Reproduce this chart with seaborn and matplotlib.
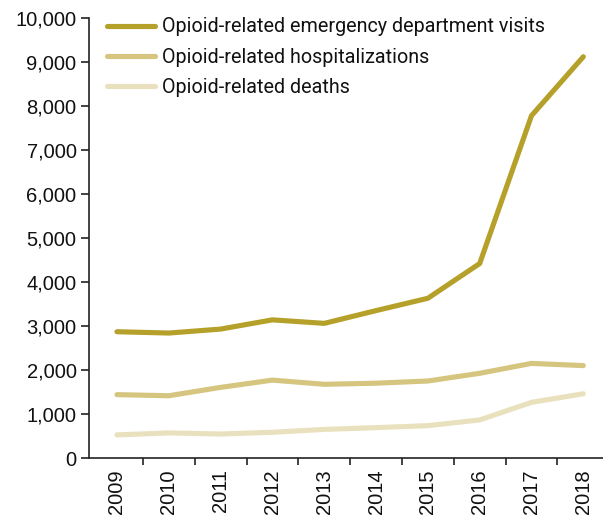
import matplotlib
matplotlib.use("Agg")
import matplotlib.pyplot as plt
import seaborn as sns
import pandas as pd
from matplotlib.ticker import FixedLocator, FuncFormatter

years = ["2009", "2010", "2011", "2012", "2013", "2014", "2015", "2016", "2017", "2018"]
ed_visits = [2870, 2840, 2930, 3140, 3060, 3350, 3630, 4420, 7780, 9120]
hospitalizations = [1440, 1415, 1605, 1770, 1675, 1700, 1750, 1925, 2150, 2100]
deaths = [525, 570, 545, 585, 650, 690, 735, 865, 1265, 1460]

series_names = [
    "Opioid-related emergency department visits",
    "Opioid-related hospitalizations",
    "Opioid-related deaths",
]
colors = ["#B5A02A", "#D5C57F", "#E9E1BD"]

rows = []
for name, vals in zip(series_names, [ed_visits, hospitalizations, deaths]):
    for i, (yr, v) in enumerate(zip(years, vals)):
        rows.append({"pos": i, "year": yr, "value": v, "series": name})
df = pd.DataFrame(rows)

sns.set_theme(style="white")
plt.rcParams["font.family"] = ["Liberation Sans", "DejaVu Sans"]

W, H = 603, 519
fig = plt.figure(figsize=(W / 100, H / 100), dpi=100)
ax = fig.add_axes([89 / W, 1 - 458 / H, 1 - 89 / W, (458 - 18) / H])

sns.lineplot(data=df, x="pos", y="value", hue="series", hue_order=series_names,
             palette=colors, linewidth=3.7, ax=ax, legend=True)

ax.set_xlim(-0.54, 9.38)
ax.set_ylim(0, 10000)
ax.set_xlabel("")
ax.set_ylabel("")

ax.set_xticks(range(len(years)))
ax.set_xticklabels(years, rotation=90, fontsize=14.5, color="#111111")
ax.xaxis.set_minor_locator(FixedLocator([i + 0.5 for i in range(len(years) - 1)]))
ax.tick_params(axis="x", which="major", length=0, pad=8)
ax.tick_params(axis="x", which="minor", length=5, width=1.2, color="#222222", bottom=True)

ax.set_yticks(range(0, 10001, 1000))
ax.yaxis.set_major_formatter(FuncFormatter(lambda v, p: f"{int(v):,}"))
ax.tick_params(axis="y", length=6, width=1.2, color="#222222", labelsize=14.5,
               labelcolor="#111111", left=True, pad=3)

for side in ["top", "right"]:
    ax.spines[side].set_visible(False)
for side in ["left", "bottom"]:
    ax.spines[side].set_color("#222222")
    ax.spines[side].set_linewidth(1.2)

leg = ax.legend(loc="upper left", bbox_to_anchor=(107 / W, 1 - 17.5 / H),
                bbox_transform=fig.transFigure, frameon=False,
                borderpad=0, borderaxespad=0,
                handlelength=2.45, handletextpad=0.33, labelspacing=0.57,
                prop={"family": "Roboto", "size": 14.2})
for text in leg.get_texts():
    text.set_color("#111111")
for line in leg.get_lines():
    line.set_linewidth(3.7)

fig.savefig("out.png", dpi=100)
